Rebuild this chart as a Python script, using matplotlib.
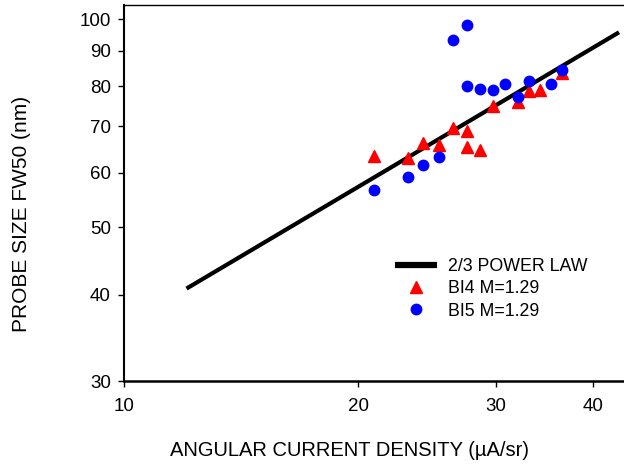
import matplotlib
matplotlib.use("Agg")
import matplotlib.pyplot as plt
from matplotlib.ticker import FixedLocator, NullLocator, FixedFormatter

plt.rcParams['font.family'] = ['Liberation Sans', 'DejaVu Sans']

# 2/3 power law line end points
law_x = [12.03, 43.2]
law_y = [40.8, 95.7]

# BI4 M=1.29 (red triangles)
bi4_x = [20.94, 23.15, 24.20, 25.34, 26.44, 27.55, 27.55, 28.66, 29.75, 32.09, 33.15, 34.24, 36.48]
bi4_y = [63.45, 63.1, 66.2, 65.8, 69.5, 68.95, 65.45, 64.7, 74.8, 76.0, 78.8, 78.96, 83.45]

# BI5 M=1.29 (blue circles)
bi5_x = [20.94, 23.15, 24.20, 25.34, 26.44, 27.55, 27.55, 28.66, 29.75, 30.86, 32.09, 33.15, 35.34, 36.48]
bi5_y = [56.7, 59.2, 61.6, 63.2, 93.2, 98.1, 80.1, 79.2, 79.05, 80.5, 77.2, 81.45, 80.7, 84.4]

xticks = [10, 20, 30, 40]
yticks = [30, 40, 50, 60, 70, 80, 90, 100]

W, H = 624, 468
fig = plt.figure(figsize=(W / 100, H / 100), dpi=100)
ax = fig.add_axes([124 / W, (H - 381) / H, (W - 124) / W, (381 - 5) / H])

ax.plot(law_x, law_y, color='black', lw=3, solid_capstyle='butt', label='2/3 POWER LAW', zorder=2)
ax.plot(bi4_x, bi4_y, ls='none', marker='^', ms=8, color='#ff0000', mec='#ff0000', label='BI4 M=1.29', zorder=3)
ax.plot(bi5_x, bi5_y, ls='none', marker='o', ms=7.5, color='#0000ff', mec='#0000ff', label='BI5 M=1.29', zorder=4)

ax.set_xscale('log')
ax.set_yscale('log')
ax.set_xlim(10, 43.84)
ax.set_ylim(30, 104.8)

ax.xaxis.set_major_locator(FixedLocator(xticks))
ax.xaxis.set_minor_locator(NullLocator())
ax.xaxis.set_major_formatter(FixedFormatter([str(t) for t in xticks]))
ax.yaxis.set_major_locator(FixedLocator(yticks))
ax.yaxis.set_minor_locator(NullLocator())
ax.yaxis.set_major_formatter(FixedFormatter([str(t) for t in yticks]))

ax.tick_params(axis='both', direction='out', length=4.5, width=1, labelsize=13.5, colors='black')
ax.tick_params(axis='x', pad=8)
ax.tick_params(axis='y', pad=5)

ax.spines['right'].set_visible(False)
ax.spines['left'].set_linewidth(1.5)
ax.spines['bottom'].set_linewidth(1.8)
ax.spines['top'].set_linewidth(1.0)

fig.text(350 / W, (H - 451) / H, 'ANGULAR CURRENT DENSITY (\u00b5A/sr)', ha='center', va='center', fontsize=14.5)
fig.text(22 / W, (H - 214) / H, 'PROBE SIZE FW50 (nm)', ha='center', va='center', rotation=90, fontsize=15)

leg = ax.legend(loc='upper left', bbox_to_anchor=(395 / W, (H - 258) / H), bbox_transform=fig.transFigure,
                frameon=False, fontsize=12.8, handlelength=2.36, handletextpad=0.62, borderpad=0,
                borderaxespad=0, labelspacing=0.3, numpoints=1)
leg.get_lines()[0].set_linewidth(4.5)

fig.savefig('out.png', dpi=100)
